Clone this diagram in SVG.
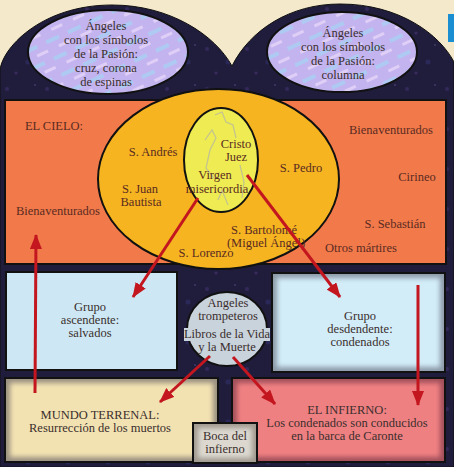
<svg xmlns="http://www.w3.org/2000/svg" width="454" height="467" viewBox="0 0 454 467">
<defs>
<style>
text{font-family:'Liberation Serif','DejaVu Serif',serif;font-size:12.5px;text-anchor:middle}
.t{fill:#3a2e2c}
.tl{fill:#5a2a22}
.box{stroke:#111;stroke-width:2}
.arr{stroke:#c3161f;stroke-width:3;fill:none;marker-end:url(#ah)}
.edge{fill:none;stroke-width:10;filter:url(#blur)}
</style>
<marker id="ah" markerUnits="userSpaceOnUse" markerWidth="15" markerHeight="12" refX="14" refY="6" orient="auto">
<path d="M0,0 L15,6 L0,12 z" fill="#c3161f"/>
</marker>
<filter id="blur" x="-10%" y="-10%" width="120%" height="120%"><feGaussianBlur stdDeviation="2.5"/></filter>
<pattern id="stars" width="40" height="40" patternUnits="userSpaceOnUse">
<rect width="40" height="40" fill="#201d3c"/>
<circle cx="7" cy="9" r="2" fill="#3a2c66" opacity="0.7"/>
<circle cx="28" cy="22" r="2.5" fill="#2e2f6a" opacity="0.6"/>
<circle cx="16" cy="33" r="1.5" fill="#4a3276" opacity="0.6"/>
<circle cx="35" cy="5" r="1" fill="#5a4a8a" opacity="0.6"/>
</pattern>
<pattern id="lilac" width="24" height="18" patternUnits="userSpaceOnUse" patternTransform="rotate(-25)">
<rect width="24" height="18" fill="#c3b4f0"/>
<rect x="0" y="2" width="14" height="4" fill="#a9d0f4" opacity="0.8"/>
<rect x="10" y="11" width="12" height="3" fill="#e6d4f8" opacity="0.8"/>
</pattern>
<clipPath id="cR"><rect x="272" y="273" width="173" height="99"/></clipPath>
<clipPath id="cM"><rect x="5" y="378" width="213" height="84"/></clipPath>
<clipPath id="cI"><rect x="232" y="378" width="213" height="84"/></clipPath>
<clipPath id="cB"><rect x="193" y="423" width="64" height="40"/></clipPath>
</defs>

<rect width="454" height="467" fill="#f5e9cc"/>
<rect x="448" y="14" width="6" height="28" fill="#1a8ed0"/>
<path d="M0,72 C0,50 40,5 112,5 C170,5 215,35 232,66 C250,30 290,4 340,4 C400,4 440,35 454,62 L454,467 L0,467 Z" fill="url(#stars)" stroke="#111" stroke-width="1"/>

<g id="angeles-izq" font-family="Liberation Serif, serif">
<ellipse cx="108" cy="52" rx="80" ry="42" fill="url(#lilac)" stroke="#111" stroke-width="2"/>
<text class="t" x="106" y="30">Ángeles</text>
<text class="t" x="106" y="44">con los símbolos</text>
<text class="t" x="106" y="58">de la Pasión:</text>
<text class="t" x="106" y="72">cruz, corona</text>
<text class="t" x="106" y="86">de espinas</text>
</g>

<g id="angeles-der">
<ellipse cx="342" cy="52" rx="75" ry="40" fill="url(#lilac)" stroke="#111" stroke-width="2"/>
<text class="t" x="343" y="37">Ángeles</text>
<text class="t" x="343" y="51">con los símbolos</text>
<text class="t" x="343" y="65">de la Pasión:</text>
<text class="t" x="343" y="79">columna</text>
</g>

<g id="cielo">
<rect class="box" x="5" y="100" width="441" height="164" fill="#f27a4a"/>
<text class="tl" x="54" y="130">EL CIELO:</text>
<text class="tl" x="58" y="215">Bienaventurados</text>
<text class="tl" x="391" y="134">Bienaventurados</text>
<text class="tl" x="417" y="181">Cirineo</text>
<text class="tl" x="395" y="228">S. Sebastián</text>
<text class="tl" x="361" y="252">Otros mártires</text>
</g>

<g id="santos">
<ellipse cx="218.5" cy="179" rx="120.5" ry="90" fill="#f5b420" stroke="#111" stroke-width="2"/>
<text class="tl" x="153" y="156">S. Andrés</text>
<text class="tl" x="140" y="193">S. Juan</text>
<text class="tl" x="141" y="206">Bautista</text>
<text class="tl" x="301" y="172">S. Pedro</text>
<text class="tl" x="264" y="234">S. Bartolomé</text>
<text class="tl" x="266" y="247">(Miguel Ángel)</text>
<text class="tl" x="206" y="257">S. Lorenzo</text>
</g>

<g id="cristo">
<ellipse cx="221" cy="160" rx="37" ry="52" fill="#eeec52" stroke="#111" stroke-width="2"/>
<path d="M215,115 L222,112 L226,122 L233,125 L236,138 M205,140 L212,130 L216,138 L210,150 L206,168 L214,178 M240,165 L244,182 L242,198 M218,200 L222,190 L228,205" fill="none" stroke="#b8b8a0" stroke-width="1.2" opacity="0.8"/>
<text class="tl" x="236" y="148">Cristo</text>
<text class="tl" x="236" y="161">Juez</text>
<text class="tl" x="215" y="179">Virgen</text>
<text class="tl" x="217" y="193">misericordia</text>
</g>

<g id="grupo-ascendente">
<rect class="box" x="6" y="272" width="171" height="98" fill="#cde8f4"/>
<text class="t" x="90" y="311">Grupo</text>
<text class="t" x="90" y="324">ascendente:</text>
<text class="t" x="90" y="337">salvados</text>
</g>

<g id="grupo-descendente">
<rect x="272" y="273" width="173" height="99" fill="#d2ecf8"/>
<rect class="edge" x="272" y="273" width="173" height="99" stroke="#8c9aa8" clip-path="url(#cR)"/>
<rect x="272" y="273" width="173" height="99" fill="none" stroke="#111" stroke-width="2"/>
<text class="t" x="360" y="320">Grupo</text>
<text class="t" x="360" y="333">desdendente:</text>
<text class="t" x="360" y="346">condenados</text>
</g>

<g id="trompeteros">
<ellipse cx="227" cy="329" rx="40" ry="37" fill="#c9d3dc" stroke="#111" stroke-width="2"/>
<rect x="184" y="328" width="86" height="13" fill="#c9d3dc"/>
<text class="t" x="228" y="307">Angeles</text>
<text class="t" x="228" y="320">trompeteros</text>
<text class="t" x="227" y="338">Libros de la Vida</text>
<text class="t" x="227" y="351">y la Muerte</text>
</g>

<g id="mundo-terrenal">
<rect x="5" y="378" width="213" height="84" fill="#f2e2b2"/>
<rect class="edge" x="5" y="378" width="213" height="84" stroke="#9a9080" clip-path="url(#cM)"/>
<rect x="5" y="378" width="213" height="84" fill="none" stroke="#111" stroke-width="2"/>
<text class="t" x="100" y="419">MUNDO TERRENAL:</text>
<text class="t" x="100" y="432">Resurrección de los muertos</text>
</g>

<g id="infierno">
<rect x="232" y="378" width="213" height="84" fill="#ef8082"/>
<rect class="edge" x="232" y="378" width="213" height="84" stroke="#a0505a" clip-path="url(#cI)"/>
<rect x="232" y="378" width="213" height="84" fill="none" stroke="#111" stroke-width="2"/>
<text class="t" x="347" y="414">EL INFIERNO:</text>
<text class="t" x="347" y="427">Los condenados son conducidos</text>
<text class="t" x="347" y="440">en la barca de Caronte</text>
</g>

<g id="boca">
<rect x="193" y="423" width="64" height="40" fill="#dcd8d0"/>
<rect class="edge" x="193" y="423" width="64" height="40" stroke="#a09a90" clip-path="url(#cB)"/>
<rect x="193" y="423" width="64" height="40" fill="none" stroke="#111" stroke-width="2"/>
<text class="t" x="225" y="440">Boca del</text>
<text class="t" x="225" y="453">infierno</text>
</g>

<g id="connectors">
<line class="arr" x1="35" y1="393" x2="36" y2="235"/>
<line class="arr" x1="198" y1="198" x2="133" y2="297"/>
<line class="arr" x1="247" y1="175" x2="340" y2="297"/>
<line class="arr" x1="210" y1="356" x2="160" y2="402"/>
<line class="arr" x1="233" y1="357" x2="275" y2="404"/>
<line class="arr" x1="418" y1="285" x2="418" y2="405"/>
</g>
</svg>
